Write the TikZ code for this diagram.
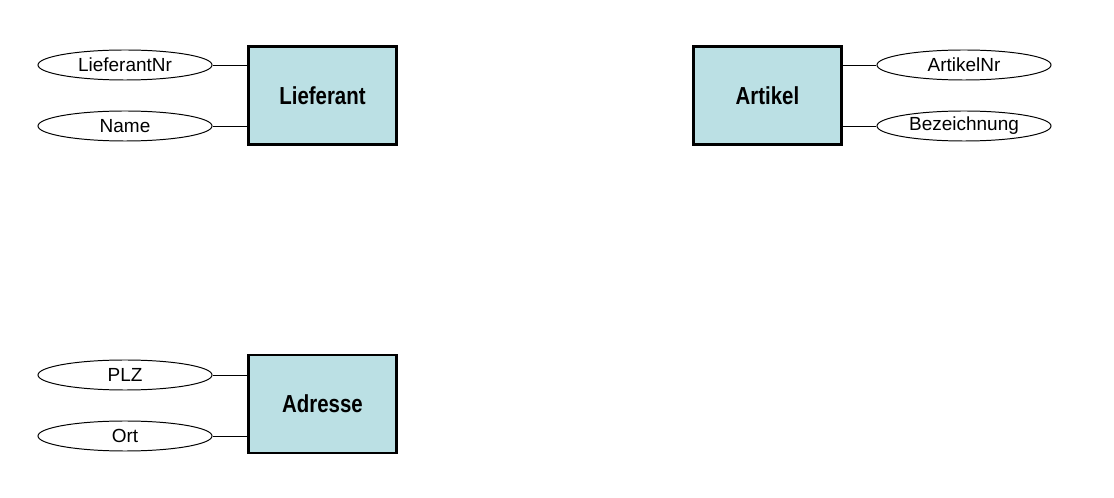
\documentclass[tikz,border=0pt]{standalone}
\usepackage{fontspec}
\setmainfont{Liberation Sans}
\newfontfamily\narrowbold[FakeStretch=0.83]{Liberation Sans Bold}
\definecolor{entityfill}{RGB}{187,224,228}
\tikzset{
  entity/.style={draw, line width=2.1pt, fill=entityfill, minimum width=3.7cm, minimum height=2.45cm, font=\narrowbold\fontsize{17.5}{20}\selectfont},
  attribute/.style={draw, ellipse, line width=0.7pt, minimum width=4.35cm, minimum height=0.75cm, inner sep=0pt, font=\fontsize{13.5}{16}\selectfont},
  link/.style={line width=0.7pt}
}
\usetikzlibrary{shapes.geometric}
\begin{document}
\begin{tikzpicture}[x=0.025cm, y=-0.025cm]
  \useasboundingbox (0,0) rectangle (1114,498);

  % Entities
  \node[entity] (lieferant) at (322.5,95.5) {Lieferant};
  \node[entity] (artikel) at (767.5,95.5) {Artikel};
  \node[entity] (adresse) at (322.5,404) {Adresse};

  % Attributes of Lieferant
  \node[attribute] (liefnr) at (125,65) {LieferantNr};
  \node[attribute] (name) at (125,126) {Name};

  % Attributes of Artikel
  \node[attribute] (artnr) at (964,65) {ArtikelNr};
  \node[attribute] (bez) at (964,126) {Bezeichnung};

  % Attributes of Adresse
  \node[attribute] (plz) at (125,375) {PLZ};
  \node[attribute] (ort) at (125,436) {Ort};

  % Links
  \draw[link] (liefnr.east) -- (liefnr.east -| lieferant.west);
  \draw[link] (name.east) -- (name.east -| lieferant.west);
  \draw[link] (artnr.west) -- (artnr.west -| artikel.east);
  \draw[link] (bez.west) -- (bez.west -| artikel.east);
  \draw[link] (plz.east) -- (plz.east -| adresse.west);
  \draw[link] (ort.east) -- (ort.east -| adresse.west);

\end{tikzpicture}
\end{document}
